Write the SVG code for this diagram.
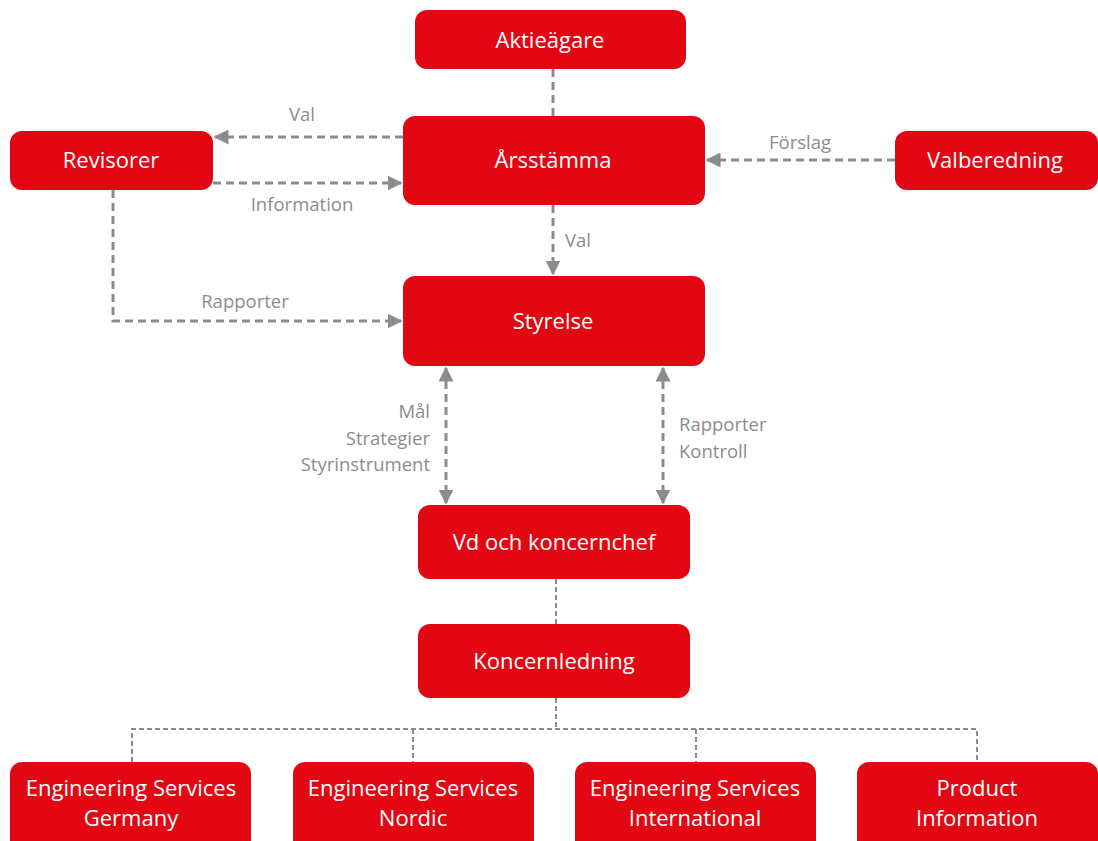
<svg xmlns="http://www.w3.org/2000/svg" width="1098" height="841" viewBox="0 0 1098 841">
<style>
.n{fill:#e30613}
.t{font-family:"Open Sans","Noto Sans",sans-serif;font-size:22px;font-weight:500;fill:#fff;text-anchor:middle}
.b{font-family:"Open Sans","Noto Sans",sans-serif;font-size:22px;fill:#fff;text-anchor:middle}
.l{font-family:"Open Sans","Noto Sans",sans-serif;font-size:18.5px;fill:#8c8c8c}
.c{fill:none;stroke:#8c8c8c;stroke-width:3;stroke-dasharray:8 5}
.f{fill:none;stroke:#8c8c8c;stroke-width:2;stroke-dasharray:5 3}
</style>
<defs>
<marker id="a" markerWidth="5" markerHeight="5" refX="4.5" refY="2.5" orient="auto" markerUnits="strokeWidth">
<path d="M0,0 L5,2.5 L0,5 Z" fill="#8c8c8c"/>
</marker>
<marker id="s" markerWidth="5" markerHeight="5" refX="0.5" refY="2.5" orient="auto" markerUnits="strokeWidth">
<path d="M5,0 L0,2.5 L5,5 Z" fill="#8c8c8c"/>
</marker>
</defs>
<g id="connectors">
<path class="c" d="M553,69 V116"/>
<path class="c" d="M553,205 V274" marker-end="url(#a)"/>
<path class="c" d="M403,137 H215" marker-end="url(#a)"/>
<path class="c" d="M213,183 H401" marker-end="url(#a)"/>
<path class="c" d="M895,160 H707" marker-end="url(#a)"/>
<path class="c" d="M113,190 V321 H401" marker-end="url(#a)"/>
<path class="c" d="M446,368 V503" marker-start="url(#s)" marker-end="url(#a)"/>
<path class="c" d="M663,368 V503" marker-start="url(#s)" marker-end="url(#a)"/>
<path class="f" d="M556,579 V624"/>
<path class="f" d="M556,698 V729"/>
<path class="f" d="M132,762 V729 H977 V762"/>
<path class="f" d="M413,729 V762"/>
<path class="f" d="M696,729 V762"/>
<text class="l" x="302" y="121" text-anchor="middle">Val</text>
<text class="l" x="302" y="211" text-anchor="middle">Information</text>
<text class="l" x="800" y="149" text-anchor="middle">Förslag</text>
<text class="l" x="565" y="247">Val</text>
<text class="l" x="245" y="308" text-anchor="middle">Rapporter</text>
<text class="l" x="430" y="418" text-anchor="end">Mål</text>
<text class="l" x="430" y="445" text-anchor="end">Strategier</text>
<text class="l" x="430" y="471" text-anchor="end">Styrinstrument</text>
<text class="l" x="679" y="431">Rapporter</text>
<text class="l" x="679" y="458">Kontroll</text>
</g>
<g id="aktieagare"><rect class="n" x="415" y="10" width="271" height="59" rx="12"/><text class="t" x="550" y="48">Aktieägare</text></g>
<g id="arsstamma"><rect class="n" x="403" y="116" width="302" height="89" rx="12"/><text class="t" x="553" y="168">Årsstämma</text></g>
<g id="revisorer"><rect class="n" x="10" y="131" width="203" height="59" rx="12"/><text class="t" x="111" y="168">Revisorer</text></g>
<g id="valberedning"><rect class="n" x="895" y="131" width="203" height="59" rx="12"/><text class="t" x="995" y="168">Valberedning</text></g>
<g id="styrelse"><rect class="n" x="403" y="276" width="302" height="90" rx="12"/><text class="t" x="553" y="329">Styrelse</text></g>
<g id="vd"><rect class="n" x="418" y="505" width="272" height="74" rx="12"/><text class="t" x="554" y="550">Vd och koncernchef</text></g>
<g id="koncernledning"><rect class="n" x="418" y="624" width="272" height="74" rx="12"/><text class="t" x="554" y="669">Koncernledning</text></g>
<g id="es-germany"><rect class="n" x="10" y="762" width="241" height="100" rx="12"/><text class="b" x="131" y="796">Engineering Services</text><text class="b" x="131" y="826">Germany</text></g>
<g id="es-nordic"><rect class="n" x="293" y="762" width="241" height="100" rx="12"/><text class="b" x="413" y="796">Engineering Services</text><text class="b" x="413" y="826">Nordic</text></g>
<g id="es-international"><rect class="n" x="575" y="762" width="241" height="100" rx="12"/><text class="b" x="695" y="796">Engineering Services</text><text class="b" x="695" y="826">International</text></g>
<g id="product-information"><rect class="n" x="857" y="762" width="241" height="100" rx="12"/><text class="b" x="977" y="796">Product</text><text class="b" x="977" y="826">Information</text></g>
</svg>
